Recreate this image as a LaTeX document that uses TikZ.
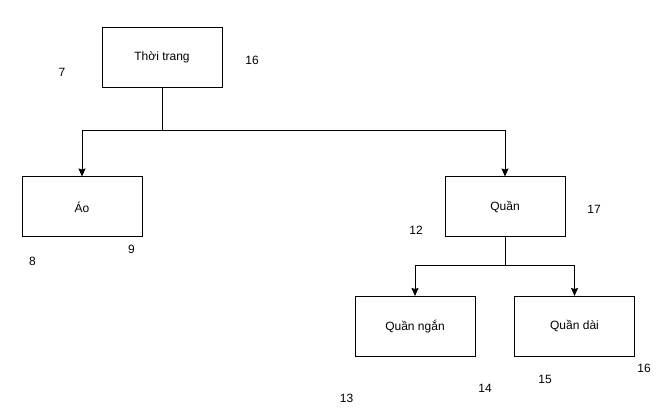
\documentclass[tikz,border=0pt]{standalone}
\usepackage{fontspec}
\setmainfont{Liberation Sans}
\usetikzlibrary{arrows.meta}
\begin{document}
\begin{tikzpicture}[x=1pt,y=-1pt,
    hop/.style={draw,line width=1pt,minimum width=120pt,minimum height=60pt,inner sep=0pt,font=\fontsize{12}{14}\selectfont},
    so/.style={inner sep=0pt,font=\fontsize{12}{14}\selectfont},
    noi/.style={line width=1pt,-{Stealth[length=8pt,width=7pt,inset=1pt]}}]
    \useasboundingbox (0,0) rectangle (659,414);
    \node[hop] (thoitrang) at (162,57.5) {Thời trang};
    \node[hop] (ao) at (82,207) {Áo};
    \node[hop] (quan) at (505,207) {Quần};
    \node[hop] (quanngan) at (415,326.5) {Quần ngắn};
    \node[hop] (quandai) at (574.5,326.5) {Quần dài};
    \coordinate (tach1) at (162,131);
    \coordinate (tach2) at (505,266);
    \draw[noi] (thoitrang.south) -- (tach1) -| (ao.north);
    \draw[noi] (tach1) -| (quan.north);
    \draw[noi] (quan.south) -- (tach2) -| (quanngan.north);
    \draw[noi] (tach2) -| (quandai.north);
    \node[so] (s7) at (62,72) {7};
    \node[so] (s16a) at (252,60) {16};
    \node[so] (s8) at (32.5,261) {8};
    \node[so] (s9) at (131.5,249) {9};
    \node[so] (s12) at (416,230) {12};
    \node[so] (s17) at (594,209.5) {17};
    \node[so] (s13) at (346.5,398) {13};
    \node[so] (s14) at (485,388) {14};
    \node[so] (s15) at (545,379) {15};
    \node[so] (s16b) at (644,368) {16};
\end{tikzpicture}
\end{document}
